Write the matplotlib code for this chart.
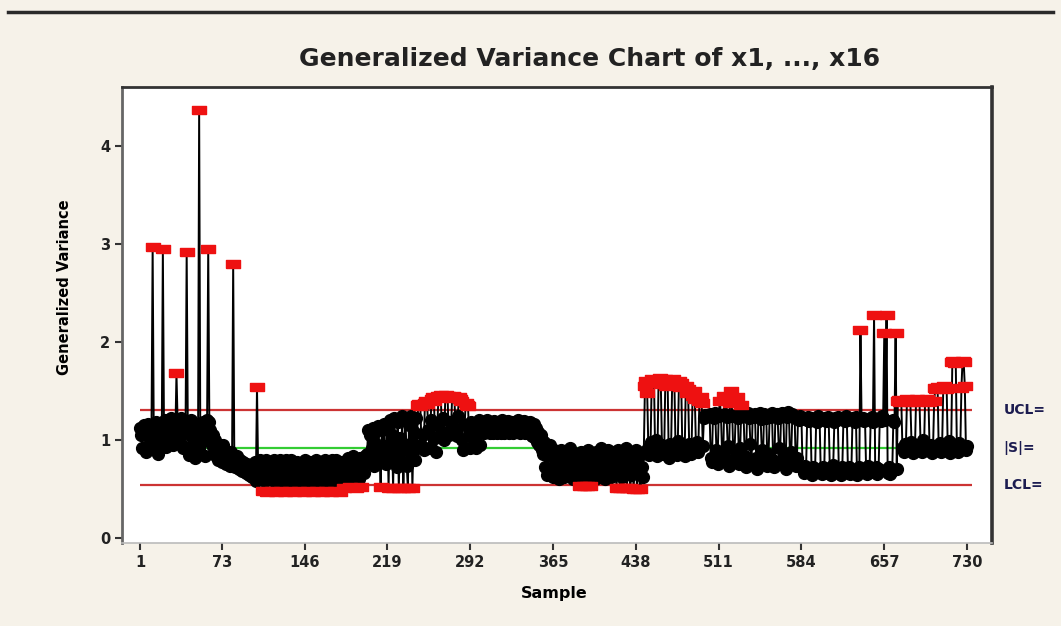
import numpy as np
import matplotlib
matplotlib.use("Agg")
import matplotlib.pyplot as plt
from matplotlib.lines import Line2D
from matplotlib.transforms import blended_transform_factory

# ---- data (generalized variance per sample) ----
gv_001_030 = [1.12, 1.05, 0.92, 1.15, 1.08, 0.88, 1.10, 1.16, 0.95, 1.02,
              1.13, 2.97, 1.05, 0.90, 1.18, 1.10, 0.86, 1.04, 1.15, 0.98,
              2.95, 1.12, 1.20, 0.93, 1.08, 1.17, 0.97, 1.22, 1.10, 0.95]
gv_031_060 = [1.15, 1.05, 1.68, 1.20, 1.12, 0.98, 1.22, 1.08, 0.92, 1.18,
              1.10, 2.92, 1.15, 0.85, 1.05, 1.20, 0.95, 1.10, 0.82, 1.02,
              1.16, 0.90, 4.37, 1.08, 0.86, 1.18, 1.00, 0.84, 1.12, 1.20]
gv_061_100 = [2.95, 1.18, 1.10, 0.95, 1.05, 0.88, 1.00, 0.84, 0.96, 0.80,
              0.92, 0.86, 0.78, 0.95, 0.82, 0.90, 0.76, 0.86, 0.80, 0.74,
              0.88, 0.78, 2.80, 0.82, 0.72, 0.84, 0.76, 0.70, 0.80, 0.74,
              0.68, 0.78, 0.72, 0.66, 0.76, 0.70, 0.64, 0.72, 0.68, 0.62]
gv_101_200 = [0.66, 0.78, 0.58, 1.54, 0.70, 0.60, 0.80, 0.64, 0.48, 0.74,
              0.58, 0.80, 0.47, 0.68, 0.60, 0.78, 0.48, 0.64, 0.80, 0.57,
              0.47, 0.74, 0.62, 0.80, 0.48, 0.58, 0.76, 0.66, 0.47, 0.80,
              0.57, 0.70, 0.48, 0.80, 0.62, 0.74, 0.47, 0.58, 0.78, 0.66,
              0.48, 0.76, 0.57, 0.70, 0.47, 0.80, 0.62, 0.74, 0.48, 0.58,
              0.78, 0.66, 0.47, 0.76, 0.57, 0.80, 0.48, 0.70, 0.62, 0.78,
              0.47, 0.74, 0.58, 0.80, 0.48, 0.66, 0.76, 0.57, 0.47, 0.80,
              0.70, 0.62, 0.48, 0.80, 0.58, 0.74, 0.47, 0.66, 0.78, 0.62,
              0.51, 0.76, 0.64, 0.82, 0.60, 0.52, 0.78, 0.68, 0.84, 0.62,
              0.51, 0.80, 0.70, 0.60, 0.82, 0.52, 0.76, 0.66, 0.84, 0.78]
gv_201_245 = [0.86, 1.10, 0.78, 1.05, 0.92, 1.12, 0.74, 1.08, 0.96, 0.82,
              1.14, 0.88, 0.52, 1.10, 0.80, 1.16, 0.94, 0.76, 1.12, 0.51,
              1.20, 0.84, 1.05, 0.51, 1.22, 0.90, 0.72, 1.18, 0.51, 1.02,
              0.78, 1.24, 0.51, 0.96, 1.20, 0.74, 0.51, 1.15, 0.86, 1.24,
              0.51, 1.08, 0.80, 1.22, 0.92]
gv_246_295 = [1.36, 1.37, 1.35, 0.95, 1.05, 0.90, 1.38, 1.40, 1.37, 1.10,
              0.92, 1.20, 1.42, 1.44, 1.40, 1.02, 0.88, 1.15, 1.45, 1.43,
              1.46, 1.08, 1.22, 1.00, 1.44, 1.46, 1.45, 1.05, 1.18, 1.10,
              1.43, 1.45, 1.44, 1.12, 1.04, 1.25, 1.44, 1.42, 1.40, 1.00,
              0.90, 1.15, 1.38, 1.36, 1.35, 1.05, 0.92, 1.18, 1.10, 0.96]
gv_296_355 = [1.10, 0.92, 1.16, 1.06, 1.20, 0.95, 1.12, 1.18, 1.07, 1.15,
              1.08, 1.20, 1.10, 1.07, 1.17, 1.12, 1.07, 1.19, 1.09, 1.14,
              1.07, 1.18, 1.11, 1.07, 1.20, 1.13, 1.07, 1.16, 1.09, 1.19,
              1.07, 1.14, 1.10, 1.18, 1.07, 1.12, 1.17, 1.08, 1.20, 1.11,
              1.07, 1.15, 1.09, 1.19, 1.07, 1.13, 1.17, 1.07, 1.12, 1.18,
              1.04, 1.10, 1.16, 1.02, 1.12, 0.98, 1.08, 0.95, 1.05, 0.90]
gv_356_445 = [0.86, 0.98, 0.72, 0.92, 0.64, 0.88, 0.95, 0.70, 0.84, 0.62,
              0.90, 0.76, 0.66, 0.86, 0.60, 0.80, 0.90, 0.68, 0.84, 0.62,
              0.88, 0.74, 0.64, 0.82, 0.92, 0.66, 0.78, 0.60, 0.86, 0.70,
              0.62, 0.84, 0.76, 0.53, 0.88, 0.66, 0.53, 0.80, 0.62, 0.53,
              0.90, 0.70, 0.53, 0.84, 0.64, 0.76, 0.60, 0.88, 0.68, 0.82,
              0.62, 0.92, 0.72, 0.64, 0.86, 0.60, 0.78, 0.90, 0.66, 0.84,
              0.62, 0.74, 0.88, 0.64, 0.80, 0.51, 0.90, 0.68, 0.51, 0.84,
              0.62, 0.51, 0.78, 0.92, 0.51, 0.70, 0.86, 0.51, 0.64, 0.82,
              0.50, 0.74, 0.90, 0.50, 0.66, 0.84, 0.50, 0.72, 0.62, 0.88]
gv_446_500 = [1.55, 1.60, 1.48, 0.92, 0.85, 0.98, 1.62, 1.58, 1.60, 0.88,
              1.00, 0.84, 1.60, 1.63, 1.57, 0.95, 0.86, 0.90, 1.62, 1.55,
              1.60, 0.82, 0.96, 0.88, 1.58, 1.62, 1.56, 0.92, 0.85, 0.99,
              1.60, 1.54, 1.58, 0.88, 0.94, 0.84, 1.55, 1.48, 1.52, 0.96,
              0.90, 0.86, 1.45, 1.50, 1.42, 0.92, 0.98, 0.88, 1.40, 1.44,
              1.38, 0.94, 1.22, 1.26, 1.25]
gv_501_580 = [1.26, 1.24, 1.27, 0.82, 0.78, 1.25, 1.22, 1.28, 0.90, 0.76,
              1.24, 1.40, 1.26, 0.86, 0.80, 1.45, 1.27, 1.23, 0.94, 0.74,
              1.38, 1.50, 1.25, 0.80, 0.88, 1.26, 1.44, 1.22, 0.76, 0.92,
              1.36, 1.27, 1.24, 0.84, 0.72, 1.25, 1.28, 1.22, 0.96, 0.78,
              1.26, 1.23, 1.27, 0.82, 0.70, 1.24, 1.28, 1.21, 0.90, 0.76,
              1.27, 1.25, 1.22, 0.74, 0.86, 1.26, 1.23, 1.28, 0.80, 0.72,
              1.24, 1.27, 1.22, 0.92, 0.78, 1.25, 1.28, 1.26, 0.84, 0.70,
              1.23, 1.29, 1.25, 0.76, 0.88, 1.27, 1.24, 1.22, 0.74, 0.82]
gv_581_668 = [1.22, 1.20, 1.24, 1.21, 0.70, 0.66, 0.74, 0.68,
              1.20, 1.23, 1.19, 1.22, 0.64, 0.72, 0.67, 0.70,
              1.21, 1.18, 1.24, 1.20, 0.68, 0.65, 0.73, 0.66,
              1.22, 1.19, 1.23, 1.20, 0.71, 0.64, 0.69, 0.75,
              1.18, 1.22, 1.20, 1.23, 0.66, 0.70, 0.64, 0.72,
              1.21, 1.19, 1.24, 1.20, 0.68, 0.73, 0.65, 0.70,
              1.22, 1.20, 1.18, 1.23, 0.64, 0.69, 0.72, 2.12,
              1.20, 1.22, 1.19, 1.21, 0.70, 0.65, 0.74, 0.67,
              1.20, 1.23, 1.18, 2.27, 0.68, 0.72, 0.65, 0.70,
              1.21, 1.19, 1.24, 1.22, 2.09, 1.20, 2.27, 0.66,
              0.72, 0.65, 0.70, 0.68, 1.20, 1.18, 2.09, 0.70]
gv_669_730 = [1.40, 1.41, 1.39, 1.40, 0.92, 0.88, 0.96, 0.90,
              1.42, 1.40, 1.41, 1.39, 0.98, 0.87, 0.94, 0.89,
              1.40, 1.42, 1.39, 1.41, 0.96, 0.88, 1.00, 0.90,
              1.41, 1.40, 1.42, 1.39, 0.89, 0.95, 0.87, 0.93,
              1.40, 1.53, 1.52, 1.54, 0.90, 0.97, 0.88, 0.95,
              1.53, 1.55, 1.52, 1.53, 0.89, 0.99, 0.87, 0.94,
              1.80, 1.81, 1.79, 1.80, 0.92, 0.88, 0.97, 0.90,
              1.53, 1.81, 1.80, 1.55, 0.90, 0.94]

ucl = 1.31
center = 0.92
lcl = 0.54
x_ticks = [1, 73, 146, 219, 292, 365, 438, 511, 584, 657, 730]
y_ticks = [0, 1, 2, 3, 4]
title = "Generalized Variance Chart of x1, ..., x16"
x_label = "Sample"
y_label = "Generalized Variance"
limit_labels = ["UCL=", "|S|=", "LCL="]

gv = np.array(gv_001_030 + gv_031_060 + gv_061_100 + gv_101_200 + gv_201_245 +
              gv_246_295 + gv_296_355 + gv_356_445 + gv_446_500 + gv_501_580 +
              gv_581_668 + gv_669_730)
samples = np.arange(1, len(gv) + 1)
out = (gv > ucl) | (gv < lcl)

# ---- figure ----
fig = plt.figure(figsize=(10.61, 6.26), dpi=100)
fig.patch.set_facecolor('#f6f2e9')
fig.add_artist(Line2D([0.008, 0.992], [0.981, 0.981], color='#2a2a2a', lw=2.5))

ax = fig.add_axes([0.115, 0.1326, 0.82, 0.7284])
ax.set_facecolor('white')

ax.hlines([ucl, lcl], 1, samples[-1] + 4, colors='#cc3333', lw=1.6, zorder=1.5)
ax.hlines([center], 1, samples[-1] + 4, colors='#33cc33', lw=1.6, zorder=1.4)

ax.plot(samples, gv, color='black', lw=1.4, zorder=2)
ax.plot(samples[~out], gv[~out], ls='none', marker='o', ms=8.5, mfc='black',
        mec='black', zorder=3)
rect = [(-1.5, -1.0), (1.5, -1.0), (1.5, 1.0), (-1.5, 1.0), (-1.5, -1.0)]
ax.plot(samples[out], gv[out], ls='none', marker=rect, ms=9.5, mfc='#ee1111',
        mec='#ee1111', zorder=4)

ax.set_xlim(-15, 752)
ax.set_ylim(-0.05, 4.6)
ax.set_xticks(x_ticks)
ax.set_yticks(y_ticks)
ax.tick_params(axis='both', direction='out', length=5, width=1.5,
               colors='#333333', labelsize=10.5)
for lab in ax.get_xticklabels() + ax.get_yticklabels():
    lab.set_fontweight('bold')
    lab.set_color('#222222')

for side, col, lw in [('left', '#666666', 2.0), ('bottom', '#bbbbbb', 1.2),
                      ('top', '#333333', 2.0), ('right', '#333333', 2.6)]:
    ax.spines[side].set_color(col)
    ax.spines[side].set_linewidth(lw)

ax.set_xlabel(x_label, fontsize=11.5, fontweight='bold')
ax.xaxis.set_label_coords(0.497, -0.094)
ax.set_ylabel(y_label, fontsize=10.5, fontweight='bold')
ax.yaxis.set_label_coords(-0.0575, 0.561)
fig.text(0.556, 0.905, title, fontsize=18, fontweight='bold', ha='center',
         va='center', color='#222222')

tr = blended_transform_factory(ax.transAxes, ax.transData)
for lab, val in zip(limit_labels, [ucl, center, lcl]):
    ax.text(1.013, val, lab, transform=tr, fontsize=10, fontweight='bold',
            color='#1c1c50', ha='left', va='center', clip_on=False)

fig.savefig('out.png', dpi=100, facecolor=fig.get_facecolor())
